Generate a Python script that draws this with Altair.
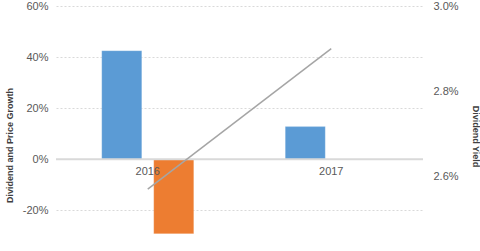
import altair as alt
import pandas as pd

years = ["2016", "2017"]
dividend_growth = [0.425, 0.128]
price_growth = [-0.291, None]
dividend_yield = [0.0257, 0.0290]

rows = []
for i, yr in enumerate(years):
    rows.append({"year": yr, "series": "Dividend Growth", "value": dividend_growth[i]})
    if price_growth[i] is not None:
        rows.append({"year": yr, "series": "Price Growth", "value": price_growth[i]})
bars_df = pd.DataFrame(rows)
line_df = pd.DataFrame({"year": years, "yield": dividend_yield})

FONT = "Liberation Sans"
GRAY = "#595959"
TITLE = "#404040"

x_enc = alt.X(
    "year:N",
    scale=alt.Scale(paddingInner=0, paddingOuter=0),
    axis=alt.Axis(title=None, orient="bottom", offset=-77, domain=False, ticks=False, zindex=1,
                  labelAngle=0, labelPadding=6, labelFontSize=11, labelColor=GRAY, labelFont=FONT),
)

bars = alt.Chart(bars_df).mark_bar(stroke="#ffffff", strokeOpacity=0.35, strokeWidth=0.6).encode(
    x=x_enc,
    xOffset=alt.XOffset("series:N", scale=alt.Scale(domain=["Dividend Growth", "Price Growth"],
                                                     paddingInner=0.23, paddingOuter=0.88)),
    y=alt.Y("value:Q", scale=alt.Scale(domain=[-0.3, 0.6], nice=False, zero=False),
            axis=alt.Axis(title="Dividend and Price Growth", values=[-0.2, 0, 0.2, 0.4, 0.6], format="%",
                          labelExpr="replace(datum.label, '\u2212', '-')",
                          domain=False, ticks=False, grid=True, gridDash=[2, 2], gridColor="#d9d9d9",
                          labelFontSize=11, labelColor=GRAY, labelFont=FONT, labelPadding=8,
                          titleFontSize=9, titleFont=FONT, titleColor=TITLE, titleFontWeight="bold",
                          titlePadding=8, titleY=139)),
    color=alt.Color("series:N", scale=alt.Scale(domain=["Dividend Growth", "Price Growth"],
                                                range=["#5B9BD5", "#ED7D31"]), legend=None),
)

zero = alt.Chart(pd.DataFrame({"z": [0.0]})).mark_rule(color="#d9d9d9", strokeWidth=2).encode(
    y=alt.Y("z:Q")
)

left = alt.layer(bars, zero)

line = alt.Chart(line_df).mark_line(color="#a5a5a5", strokeWidth=1.5).encode(
    x=alt.X("year:N"),
    y=alt.Y("yield:Q", scale=alt.Scale(domain=[0.0246, 0.030], nice=False, zero=False),
            axis=alt.Axis(title="Dividend Yield", orient="right", values=[0.026, 0.028, 0.030], format=".1%",
                          domain=False, ticks=False, grid=False,
                          labelFontSize=11, labelColor=GRAY, labelFont=FONT, labelPadding=10,
                          titleFontSize=9, titleFont=FONT, titleColor=TITLE, titleFontWeight="bold",
                          titlePadding=12, titleY=130)),
)

chart = alt.layer(left, line).resolve_scale(y="independent").properties(
    width=367, height=230,
    autosize=alt.AutoSizeParams(type="none"),
    padding={"left": 56, "top": 6, "right": 57, "bottom": 15},
).configure_view(stroke=None)

chart.save("out.html", embed_options={"renderer": "svg", "actions": False})
